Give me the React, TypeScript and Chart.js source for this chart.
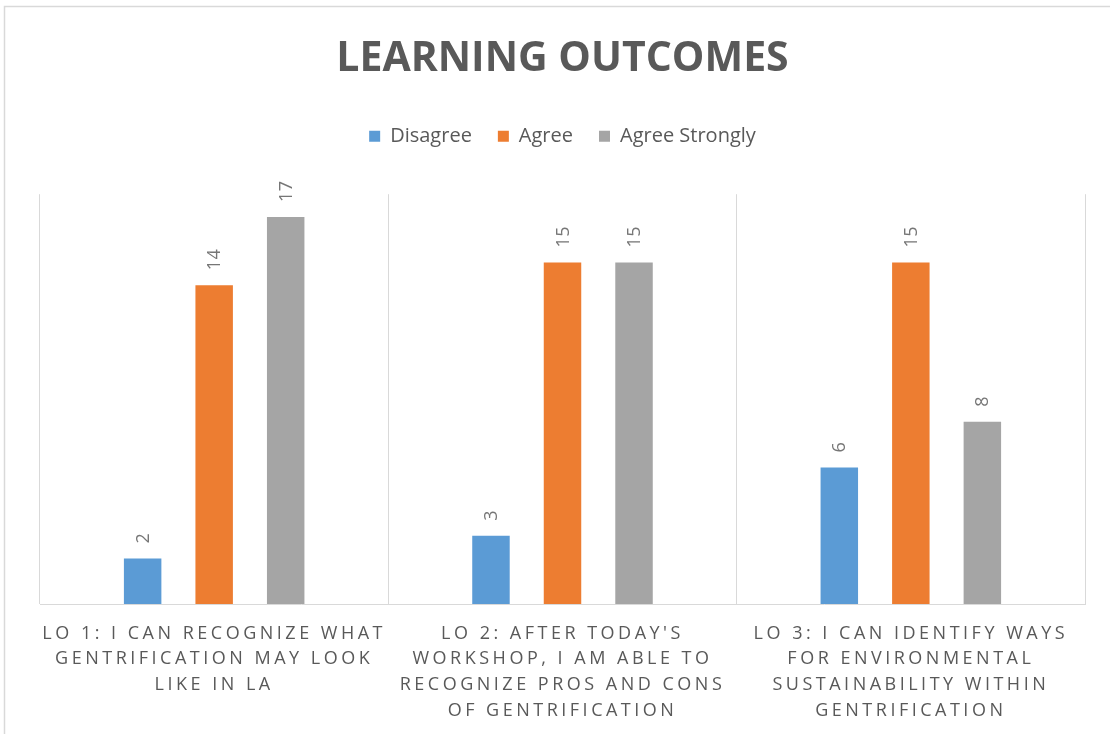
import React, { useEffect, useRef } from 'react';
import { Chart, registerables } from 'chart.js';

Chart.register(...registerables);

const chartTitle = 'LEARNING OUTCOMES';
const categories: string[][] = [
  ['LO 1: I CAN RECOGNIZE WHAT', 'GENTRIFICATION MAY LOOK', 'LIKE IN LA'],
  ["LO 2: AFTER TODAY'S", 'WORKSHOP, I AM ABLE TO', 'RECOGNIZE PROS AND CONS', 'OF GENTRIFICATION'],
  ['LO 3: I CAN IDENTIFY WAYS', 'FOR ENVIRONMENTAL', 'SUSTAINABILITY WITHIN', 'GENTRIFICATION'],
];
const seriesNames = ['Disagree', 'Agree', 'Agree Strongly'];
const disagreeValues = [2, 3, 6];
const agreeValues = [14, 15, 15];
const agreeStronglyValues = [17, 15, 8];
const seriesColors = ['#5b9bd5', '#ed7d31', '#a5a5a5'];
const yMax = 18;

const framePlugin = {
  id: 'frame',
  beforeDraw(chart: any) {
    const ctx = chart.ctx;
    ctx.save();
    ctx.strokeStyle = '#d9d9d9';
    ctx.lineWidth = 1.5;
    ctx.beginPath();
    ctx.moveTo(4.5, chart.height);
    ctx.lineTo(4.5, 6.5);
    ctx.lineTo(chart.width, 6.5);
    ctx.stroke();
    ctx.restore();
  },
};

const dataLabelPlugin = {
  id: 'rotatedDataLabels',
  afterDatasetsDraw(chart: any) {
    const ctx = chart.ctx;
    ctx.save();
    ctx.letterSpacing = '0.5px';
    ctx.font = '18px "Open Sans"';
    ctx.fillStyle = '#767676';
    ctx.textAlign = 'left';
    ctx.textBaseline = 'middle';
    chart.data.datasets.forEach((ds: any, i: number) => {
      const meta = chart.getDatasetMeta(i);
      meta.data.forEach((bar: any, j: number) => {
        const { x, y } = bar.getProps(['x', 'y'], true);
        ctx.save();
        ctx.translate(x + 1, y - 15);
        ctx.rotate(-Math.PI / 2);
        ctx.fillText(String(ds.data[j]), 0, 0);
        ctx.restore();
      });
    });
    ctx.restore();
    // spaced lettering for the category labels drawn after datasets
    ctx.letterSpacing = '3.5px';
  },
  afterDraw(chart: any) {
    chart.ctx.letterSpacing = '0px';
  },
};

const legendSpacePlugin = {
  id: 'legendSpace',
  beforeInit(chart: any) {
    const legend = chart.legend;
    if (!legend) return;
    const origFit = legend.fit;
    legend.fit = function () {
      origFit.call(this);
      this.height += 38;
    };
  },
};

export default function App() {
  const canvasRef = useRef<HTMLCanvasElement | null>(null);

  useEffect(() => {
    const canvas = canvasRef.current;
    if (!canvas) return;
    const chart = new Chart(canvas, {
      type: 'bar',
      data: {
        labels: categories,
        datasets: [
          { label: seriesNames[0], data: disagreeValues, backgroundColor: seriesColors[0] },
          { label: seriesNames[1], data: agreeValues, backgroundColor: seriesColors[1] },
          { label: seriesNames[2], data: agreeStronglyValues, backgroundColor: seriesColors[2] },
        ],
      },
      options: {
        responsive: false,
        animation: false,
        devicePixelRatio: 1,
        layout: { padding: { left: 40, right: 25, top: 0, bottom: 13 } },
        datasets: {
          bar: { categoryPercentage: 0.616, barPercentage: 0.524 },
        },
        plugins: {
          title: {
            display: true,
            text: chartTitle,
            color: '#595959',
            font: { family: '"Open Sans"', size: 41, weight: 'bold', lineHeight: 1.2 },
            padding: { top: 35, bottom: 16 },
          },
          legend: {
            display: true,
            position: 'top',
            labels: {
              color: '#595959',
              font: { family: '"Open Sans"', size: 20 },
              boxWidth: 11,
              boxHeight: 11,
              padding: 26,
            },
          },
          tooltip: { enabled: false },
        },
        scales: {
          x: {
            grid: { display: true, color: '#d9d9d9', lineWidth: 1, drawTicks: false, offset: true },
            border: { display: true, color: '#d9d9d9', width: 1 },
            ticks: {
              color: '#595959',
              font: { family: '"Open Sans"', size: 18, lineHeight: 1.42 },
              padding: 17,
              maxRotation: 0,
              minRotation: 0,
              autoSkip: false,
              z: 1,
            },
            afterFit(scale: any) {
              scale.height = 117;
            },
          },
          y: {
            display: false,
            min: 0,
            max: yMax,
          },
        },
      },
      plugins: [framePlugin, dataLabelPlugin, legendSpacePlugin],
    } as any);
    return () => chart.destroy();
  }, []);

  return (
    <div style={{ position: 'fixed', left: 0, top: 0, width: 1110, height: 734, background: '#ffffff' }}>
      <canvas ref={canvasRef} width={1110} height={734} style={{ display: 'block' }} />
    </div>
  );
}
